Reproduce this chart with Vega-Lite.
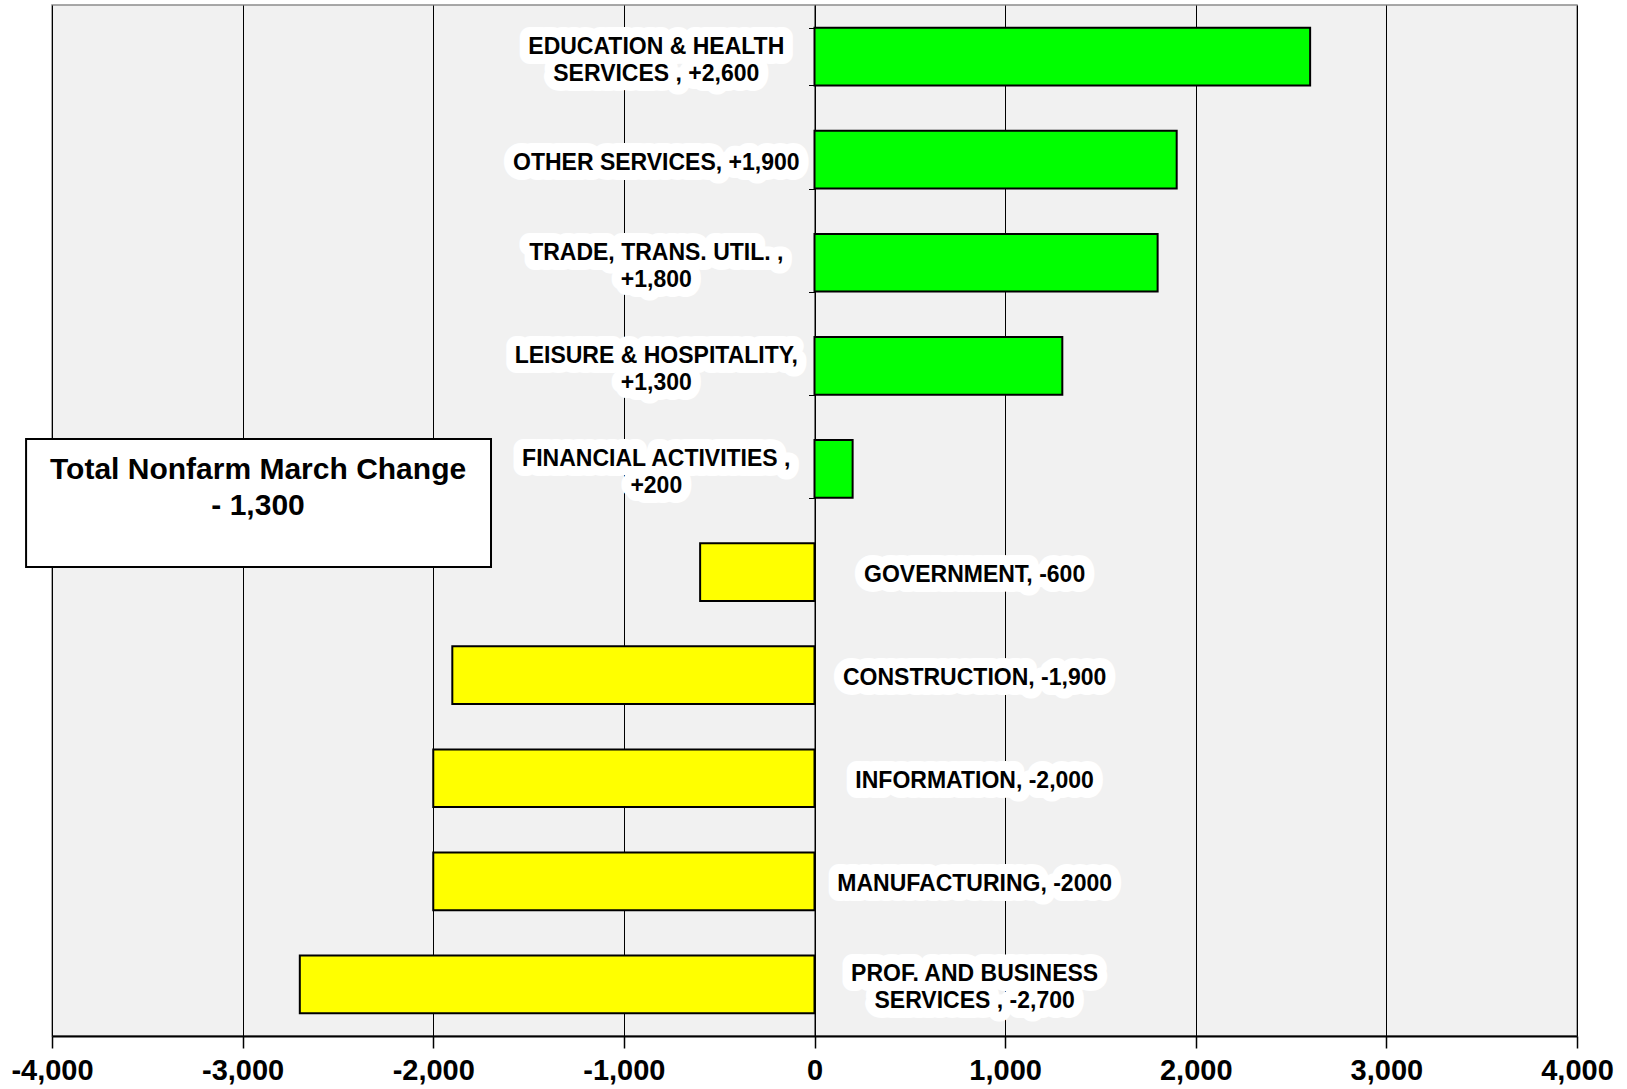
{
  "$schema": "https://vega.github.io/schema/vega-lite/v6.json",
  "autosize": "none",
  "width": 1525,
  "height": 1031,
  "padding": {"left": 52, "top": 5, "right": 50, "bottom": 53},
  "background": "white",
  "config": {
    "view": {"fill": "#f1f1f1", "stroke": "#8c8c8c", "strokeWidth": 1.5},
    "font": "Liberation Sans",
    "text": {"lineBreak": "\n", "fontSize": 23, "fontWeight": "bold", "lineHeight": 27, "align": "center", "baseline": "middle"}
  },
  "datasets": {
    "sectors": [
      {"sector": "Education & Health", "value": 2600, "label": "EDUCATION & HEALTH\nSERVICES , +2,600"},
      {"sector": "Other Services", "value": 1900, "label": "OTHER SERVICES, +1,900"},
      {"sector": "Trade, Trans. Util.", "value": 1800, "label": "TRADE,  TRANS.  UTIL. ,\n+1,800"},
      {"sector": "Leisure & Hospitality", "value": 1300, "label": "LEISURE & HOSPITALITY,\n+1,300"},
      {"sector": "Financial Activities", "value": 200, "label": "FINANCIAL  ACTIVITIES  ,\n+200"},
      {"sector": "Government", "value": -600, "label": "GOVERNMENT, -600"},
      {"sector": "Construction", "value": -1900, "label": "CONSTRUCTION, -1,900"},
      {"sector": "Information", "value": -2000, "label": "INFORMATION,  -2,000"},
      {"sector": "Manufacturing", "value": -2000, "label": "MANUFACTURING,  -2000"},
      {"sector": "Prof. and Business Services", "value": -2700, "label": "PROF. AND BUSINESS\nSERVICES , -2,700"}
    ],
    "note": [{"note": "Total Nonfarm March Change\n- 1,300"}]
  },
  "layer": [
    {
      "data": {"name": "sectors"},
      "encoding": {
        "y": {
          "field": "sector",
          "type": "nominal",
          "sort": null,
          "scale": {"paddingInner": 0.44, "paddingOuter": 0.22},
          "axis": {
            "title": null,
            "labels": false,
            "offset": -762.5,
            "tickBand": "extent",
            "tickSize": 6,
            "tickColor": "black",
            "tickWidth": 1,
            "domainColor": "black",
            "domainWidth": 1,
            "grid": false
          }
        }
      },
      "layer": [
        {
          "mark": {"type": "bar", "stroke": "black", "strokeWidth": 2},
          "encoding": {
            "x": {
              "field": "value",
              "type": "quantitative",
              "scale": {"domain": [-4000, 4000], "nice": false},
              "axis": {
                "title": null,
                "values": [-4000, -3000, -2000, -1000, 0, 1000, 2000, 3000, 4000],
                "labelExpr": "(datum.value < 0 ? '-' : '') + format(abs(datum.value), ',')",
                "labelFont": "Liberation Sans Narrow, Liberation Sans",
                "labelFontSize": 29,
                "labelFontWeight": "bold",
                "labelColor": "black",
                "labelPadding": 8,
                "labelFlush": false,
                "labelOverlap": false,
                "grid": true,
                "gridColor": "black",
                "gridWidth": 1,
                "gridOpacity": 1,
                "domainColor": "black",
                "domainWidth": 2,
                "tickColor": "black",
                "tickSize": 12,
                "tickWidth": 1.5
              }
            },
            "x2": {"datum": 0},
            "color": {
              "condition": {"test": "datum.value > 0", "value": "#00ff00"},
              "value": "#ffff00"
            }
          }
        },
        {
          "transform": [{"filter": "datum.value > 0 && indexof(datum.label, '\\n') < 0"}],
          "mark": {"type": "text", "dy": 3, "stroke": "white", "strokeWidth": 20, "strokeJoin": "round", "fill": "white"},
          "encoding": {"x": {"datum": -830}, "text": {"field": "label"}}
        },
        {
          "transform": [{"filter": "datum.value > 0 && indexof(datum.label, '\\n') >= 0"}],
          "mark": {"type": "text", "dy": -10, "stroke": "white", "strokeWidth": 20, "strokeJoin": "round", "fill": "white"},
          "encoding": {"x": {"datum": -830}, "text": {"field": "label"}}
        },
        {
          "transform": [{"filter": "datum.value < 0 && indexof(datum.label, '\\n') < 0"}],
          "mark": {"type": "text", "dy": 3, "stroke": "white", "strokeWidth": 20, "strokeJoin": "round", "fill": "white"},
          "encoding": {"x": {"datum": 840}, "text": {"field": "label"}}
        },
        {
          "transform": [{"filter": "datum.value < 0 && indexof(datum.label, '\\n') >= 0"}],
          "mark": {"type": "text", "dy": -10, "stroke": "white", "strokeWidth": 20, "strokeJoin": "round", "fill": "white"},
          "encoding": {"x": {"datum": 840}, "text": {"field": "label"}}
        },
        {
          "transform": [{"filter": "datum.value > 0 && indexof(datum.label, '\\n') < 0"}],
          "mark": {"type": "text", "dy": 3, "color": "black"},
          "encoding": {"x": {"datum": -830}, "text": {"field": "label"}}
        },
        {
          "transform": [{"filter": "datum.value > 0 && indexof(datum.label, '\\n') >= 0"}],
          "mark": {"type": "text", "dy": -10, "color": "black"},
          "encoding": {"x": {"datum": -830}, "text": {"field": "label"}}
        },
        {
          "transform": [{"filter": "datum.value < 0 && indexof(datum.label, '\\n') < 0"}],
          "mark": {"type": "text", "dy": 3, "color": "black"},
          "encoding": {"x": {"datum": 840}, "text": {"field": "label"}}
        },
        {
          "transform": [{"filter": "datum.value < 0 && indexof(datum.label, '\\n') >= 0"}],
          "mark": {"type": "text", "dy": -10, "color": "black"},
          "encoding": {"x": {"datum": 840}, "text": {"field": "label"}}
        }
      ]
    },
    {
      "data": {"name": "note"},
      "layer": [
        {
          "mark": {"type": "rect", "fill": "white", "stroke": "black", "strokeWidth": 2, "clip": false},
          "encoding": {
            "x": {"datum": -4136},
            "x2": {"datum": -1697},
            "y": {"datum": 4.21, "type": "quantitative", "scale": {"domain": [0, 10], "reverse": true, "nice": false, "zero": false}, "axis": null},
            "y2": {"datum": 5.45}
          }
        },
        {
          "mark": {"type": "text", "fontSize": 30, "lineHeight": 36, "color": "black"},
          "encoding": {
            "x": {"datum": -2919},
            "y": {"datum": 4.51, "type": "quantitative"},
            "text": {"field": "note"}
          }
        }
      ]
    }
  ],
  "resolve": {"scale": {"y": "independent"}, "axis": {"y": "independent"}}
}
